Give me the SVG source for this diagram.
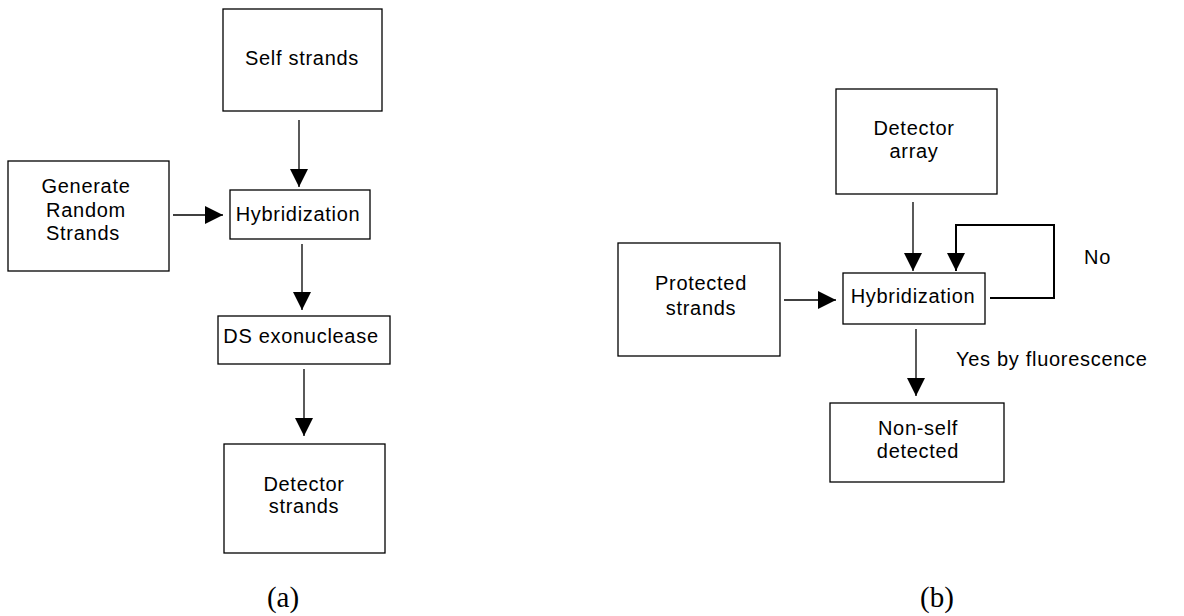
<svg xmlns="http://www.w3.org/2000/svg" width="1184" height="616" viewBox="0 0 1184 616">
  <style>
    .box { fill: #ffffff; stroke: #000000; stroke-width: 1.3; }
    .lbl { font-family: "Liberation Sans", Arial, sans-serif; font-size: 20px; letter-spacing: 0.7px; fill: #000000; text-anchor: middle; }
    .note { font-family: "Liberation Sans", Arial, sans-serif; font-size: 20px; letter-spacing: 0.7px; fill: #000000; }
    .cap { font-family: "Liberation Serif", "Times New Roman", serif; font-size: 29px; fill: #000000; text-anchor: middle; }
    .edge { fill: none; stroke: #000000; stroke-width: 1.3; }
    .loop { fill: none; stroke: #000000; stroke-width: 2; }
  </style>
  <defs>
    <marker id="head" viewBox="0 0 18 18" refX="18" refY="9" markerWidth="18" markerHeight="18" markerUnits="userSpaceOnUse" orient="auto">
      <path d="M0,0 L18,9 L0,18 Z" fill="#000000"/>
    </marker>
  </defs>
  <rect width="1184" height="616" fill="#ffffff"/>

  <!-- (a) negative selection of detector strands -->
  <g id="self-strands">
    <rect class="box" x="223" y="9" width="159" height="102"/>
    <text class="lbl" x="302" y="65">Self strands</text>
  </g>
  <g id="generate-random">
    <rect class="box" x="8" y="161" width="161" height="110"/>
    <text class="lbl" x="86" y="193">Generate</text>
    <text class="lbl" x="86" y="217">Random</text>
    <text class="lbl" x="83" y="240">Strands</text>
  </g>
  <g id="hybridization-a">
    <rect class="box" x="230" y="190" width="140" height="49"/>
    <text class="lbl" x="298" y="221">Hybridization</text>
  </g>
  <g id="ds-exonuclease">
    <rect class="box" x="218" y="316" width="172" height="48"/>
    <text class="lbl" x="301" y="343">DS exonuclease</text>
  </g>
  <g id="detector-strands">
    <rect class="box" x="224" y="444" width="161" height="109"/>
    <text class="lbl" x="304" y="491">Detector</text>
    <text class="lbl" x="304" y="513">strands</text>
  </g>
  <text class="cap" x="283" y="607">(a)</text>

  <!-- (b) detection of non-self strands -->
  <g id="detector-array">
    <rect class="box" x="836" y="89" width="161" height="105"/>
    <text class="lbl" x="914" y="135">Detector</text>
    <text class="lbl" x="914" y="158">array</text>
  </g>
  <g id="protected-strands">
    <rect class="box" x="618" y="243" width="162" height="113"/>
    <text class="lbl" x="701" y="290">Protected</text>
    <text class="lbl" x="701" y="315">strands</text>
  </g>
  <g id="hybridization-b">
    <rect class="box" x="843" y="273" width="142" height="51"/>
    <text class="lbl" x="913" y="303">Hybridization</text>
  </g>
  <g id="non-self-detected">
    <rect class="box" x="830" y="403" width="174" height="79"/>
    <text class="lbl" x="918" y="435">Non-self</text>
    <text class="lbl" x="918" y="458">detected</text>
  </g>
  <text class="note" x="1084" y="264">No</text>
  <text class="note" x="956" y="366">Yes by fluorescence</text>
  <text class="cap" x="937" y="607">(b)</text>

  <g id="connectors">
    <line class="edge" x1="299" y1="120" x2="299" y2="187" marker-end="url(#head)"/>
    <line class="edge" x1="173" y1="215" x2="223" y2="215" marker-end="url(#head)"/>
    <line class="edge" x1="302" y1="244" x2="302" y2="310" marker-end="url(#head)"/>
    <line class="edge" x1="304" y1="369" x2="304" y2="436" marker-end="url(#head)"/>

    <line class="edge" x1="913" y1="202" x2="913" y2="271" marker-end="url(#head)"/>
    <line class="edge" x1="784" y1="300" x2="836" y2="300" marker-end="url(#head)"/>
    <polyline class="loop" points="990,298 1054,298 1054,225 956,225 956,271" marker-end="url(#head)"/>
    <line class="edge" x1="916" y1="329" x2="916" y2="396" marker-end="url(#head)"/>
  </g>
</svg>
